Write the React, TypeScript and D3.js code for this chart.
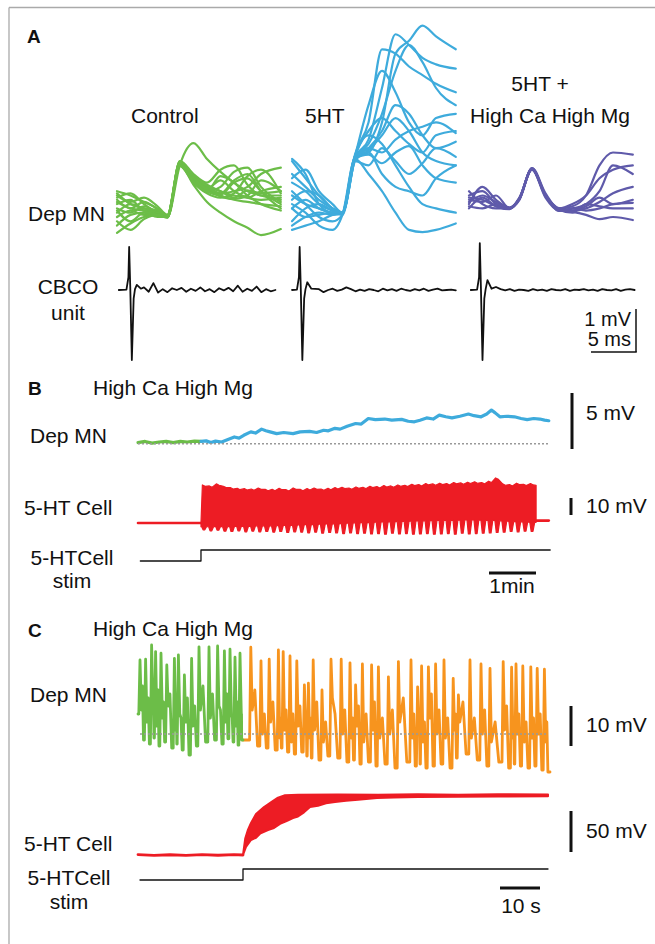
import * as d3 from "d3";
import React, { useEffect, useRef } from "react";

const W = 655;
const H = 944;
const sans = '"Liberation Sans", Arial, Helvetica, sans-serif';

const green = "#6cbd48";
const blue = "#3eabdc";
const purple = "#5f5aaa";
const red = "#ed1c24";
const orange = "#f7941e";
const ink = "#111";

// ---------- A: Dep MN overlays (ms, mV) ----------
const aTimes = [0, 1.5, 3, 4.5, 5.6, 7.0, 8.5, 10, 11.5, 13, 14.5, 16, 18.2];
const aOffsets = [117, 292, 469];

const controlTraces = [
  [0.35, 0.2, 0.15, 0.08, 0.0, 1.22, 1.72, 1.35, 1.05, 0.8, 0.6, 0.5, 0.4],
  [-0.37, -0.15, 0.0, 0.05, 0.0, 1.2, 0.75, 0.35, 0.1, -0.1, -0.25, -0.42, -0.28],
  [0.1, 0.3, 0.2, 0.15, 0.03, 1.28, 0.95, 0.7, 0.55, 0.6, 0.7, 1.0, 1.15],
  [0.6, 0.5, 0.35, 0.2, 0.05, 1.3, 1.0, 0.8, 1.1, 1.2, 0.75, 0.5, 0.5],
  [0.45, 0.55, 0.3, 0.1, 0.0, 1.25, 0.9, 0.65, 0.5, 0.4, 0.35, 0.3, 0.25],
  [0.2, 0.1, 0.25, 0.1, 0.02, 1.22, 0.85, 0.6, 0.7, 1.05, 1.15, 0.7, 0.35],
  [0.0, 0.15, 0.05, 0.05, -0.02, 1.18, 0.8, 0.55, 0.45, 0.55, 0.95, 1.1, 0.55],
  [0.5, 0.35, 0.45, 0.25, 0.05, 1.3, 0.95, 0.75, 0.6, 0.5, 0.45, 0.6, 0.7],
  [-0.2, 0.05, 0.1, 0.0, 0.0, 1.2, 0.85, 0.6, 0.95, 0.8, 0.5, 0.3, 0.15],
  [0.3, 0.4, 0.15, 0.12, 0.03, 1.27, 0.9, 0.7, 0.55, 0.85, 1.0, 0.6, 0.2],
  [0.15, -0.1, 0.1, 0.05, 0.0, 1.24, 0.88, 0.62, 0.48, 0.42, 0.5, 0.85, 0.6],
  [0.55, 0.3, 0.2, 0.15, 0.02, 1.26, 0.92, 0.66, 0.85, 0.6, 0.45, 0.4, 0.45],
  [-0.1, -0.3, -0.05, 0.05, 0.0, 1.2, 0.82, 0.58, 0.52, 0.8, 0.9, 0.6, 0.3],
  [0.4, 0.2, 0.35, 0.18, 0.04, 1.29, 0.97, 0.72, 0.6, 0.45, 0.62, 0.55, 0.6],
];

const serotoninTraces = [
  [0.8, 0.6, 0.3, 0.15, 0.1, 1.4, 1.5, 2.2, 3.8, 4.1, 4.45, 4.2, 3.9],
  [0.2, 0.0, 0.05, 0.1, 0.1, 1.35, 1.8, 3.0, 4.25, 4.0, 3.7, 3.55, 3.45],
  [1.3, 0.9, 0.5, 0.2, 0.1, 1.45, 2.2, 3.9, 3.8, 3.5, 3.3, 3.1, 2.9],
  [0.5, 0.3, 0.2, 0.1, 0.1, 1.4, 1.7, 2.4, 3.4, 4.0, 3.6, 3.0, 2.6],
  [-0.2, 0.0, 0.1, 0.05, 0.1, 1.35, 1.6, 1.5, 1.8, 2.0, 2.1, 2.2, 1.95],
  [0.9, 1.1, 0.6, 0.3, 0.1, 1.4, 2.0, 2.3, 2.0, 1.7, 1.5, 1.9, 2.0],
  [0.2, 0.4, 0.2, 0.1, 0.05, 1.3, 1.55, 1.9, 2.3, 2.0, 1.5, 1.3, 1.2],
  [-0.3, -0.2, -0.1, 0.05, 0.1, 1.3, 1.2, 1.6, 1.3, 1.0, 1.25, 1.6, 1.4],
  [0.6, 0.3, 0.0, -0.1, 0.05, 1.4, 1.5, 1.0, 0.7, 0.6, 0.5, 0.9, 1.2],
  [0.3, 0.1, -0.2, -0.3, 0.05, 1.35, 1.0, 0.6, 0.1, -0.3, -0.35, -0.3, -0.15],
  [1.0, 0.7, 0.4, 0.2, 0.1, 1.42, 1.9, 1.7, 1.2, 0.7, 0.3, 0.2, 0.1],
  [-0.1, 0.2, 0.3, 0.15, 0.1, 1.38, 1.6, 2.0, 2.6, 2.4, 1.9, 1.6, 1.75],
  [0.4, 0.6, 0.5, 0.2, 0.1, 1.36, 1.45, 1.25, 1.5, 1.65, 1.2, 0.9, 0.8],
  [1.35, 1.0, 0.3, 0.1, 0.1, 1.4, 2.6, 3.4, 2.9, 2.2, 1.9, 2.3, 2.4],
];

const highCaMgTraces = [
  [0.5, 0.6, 0.3, 0.2, 0.45, 1.12, 0.5, 0.2, 0.25, 0.5, 1.2, 1.5, 1.45],
  [0.3, 0.7, 0.4, 0.22, 0.42, 1.1, 0.45, 0.15, 0.2, 0.3, 0.6, 1.2, 1.0],
  [0.4, 0.35, 0.5, 0.2, 0.4, 1.14, 0.55, 0.18, 0.15, 0.2, 0.35, 0.55, 0.7],
  [0.2, 0.45, 0.25, 0.18, 0.44, 1.1, 0.5, 0.2, 0.15, 0.25, 0.45, 0.3, 0.4],
  [0.6, 0.3, 0.2, 0.2, 0.43, 1.13, 0.52, 0.14, 0.2, 0.15, 0.2, 0.3, 0.33],
  [0.35, 0.5, 0.35, 0.22, 0.41, 1.11, 0.48, 0.17, 0.1, 0.3, 0.25, 0.2, 0.2],
  [0.25, 0.2, 0.3, 0.2, 0.42, 1.12, 0.5, 0.16, 0.12, 0.05, -0.05, 0.0, -0.07],
  [0.45, 0.4, 0.25, 0.19, 0.43, 1.12, 0.5, 0.2, 0.3, 0.5, 0.9, 1.1, 1.2],
];

// CBCO unit: spike time (ms), peak / trough / afterbump (mV), noise from 3 ms on
const cbcoStart = [0.2, 0, 0.2];
const cbcoEnd = [17.6, 18.2, 18.4];
const cbcoSpikeT = [1.35, 0.85, 1.2];
const cbcoUp = [1.0, 1.0, 1.09];
const cbcoDown = [-1.63, -1.63, -1.63];
const cbcoAfter = [0.12, 0.18, 0.23];
const cbcoNoise1 = [0.06, -0.04, 0.16, -0.06, 0.02, -0.05, 0.04, 0.0, 0.05, -0.04, 0.03, -0.02, 0.06, -0.03, 0.02, -0.05, 0.04, -0.01, 0.05, -0.03, 0.1, -0.04, 0.03, -0.02, 0.08, -0.05, 0.02, -0.03, 0.0];
const cbcoNoise2 = [0.02, -0.05, 0.0, 0.03, -0.02, 0.01, 0.06, 0.02, -0.03, 0.01, -0.02, 0.02, 0.0, -0.03, 0.03, -0.01, 0.02, -0.02, 0.03, 0.0, -0.02, 0.02, -0.01, 0.03, -0.02, 0.01, 0.03, -0.01, 0.0, 0.01, -0.01];
const cbcoNoise3 = [0.07, 0.02, -0.01, 0.02, -0.02, 0.01, 0.0, -0.02, 0.02, -0.01, 0.01, -0.02, 0.02, 0.0, -0.01, 0.02, -0.02, 0.01, 0.0, 0.02, -0.01, 0.01, -0.02, 0.02, 0.0, -0.01, 0.02, -0.02, 0.01, 0.02, 0.0];

// ---------- B (min, mV) ----------
const bGreen = [[0, -0.05], [0.15, 0.05], [0.3, -0.1], [0.45, 0.0], [0.6, 0.06], [0.75, -0.05], [0.9, 0.05], [1.05, 0.0], [1.2, 0.08], [1.34, 0.05]];
const bBlue = [
  [1.34, 0.05], [1.45, 0.1], [1.55, -0.05], [1.65, 0.08], [1.78, 0.0], [1.9, 0.2], [2.05, 0.45], [2.15, 0.35], [2.25, 0.6],
  [2.4, 0.9], [2.5, 0.8], [2.63, 1.15], [2.72, 1.0], [2.81, 0.9], [2.95, 0.75], [3.1, 0.85], [3.3, 0.75], [3.45, 0.9],
  [3.65, 0.95], [3.8, 0.85], [3.95, 1.05], [4.05, 1.0], [4.19, 1.22], [4.3, 1.15], [4.45, 1.4], [4.63, 1.65], [4.75, 1.6],
  [4.9, 2.1], [5.05, 2.0], [5.25, 2.05], [5.4, 1.95], [5.61, 2.02], [5.75, 1.85], [5.88, 1.8], [6.0, 1.95], [6.14, 2.15],
  [6.28, 2.05], [6.41, 2.4], [6.55, 2.25], [6.68, 2.15], [6.85, 2.3], [7.03, 2.5], [7.15, 2.35], [7.3, 2.25], [7.42, 2.5],
  [7.52, 2.85], [7.6, 2.6], [7.7, 2.25], [7.85, 2.3], [8.01, 2.25], [8.15, 2.1], [8.28, 2.0], [8.42, 2.1], [8.55, 2.05],
  [8.65, 1.95], [8.74, 1.9],
];
// 5-HT cell firing: one entry per cycle (mV from rest)
const bCellTop = [22.4, 21.8, 23.0, 21.6, 20.8, 20.4, 20.2, 20.0, 20.6, 19.8, 19.8, 20.4, 19.6, 20.6, 19.8, 20.2, 20.6, 20.0, 20.4, 20.8, 21.0, 20.6, 21.2, 21.0, 21.6, 21.4, 22.0, 21.8, 22.4, 22.2, 22.8, 22.6, 23.2, 23.0, 23.4, 23.2, 23.8, 23.6, 24.0, 24.2, 23.8, 24.6, 26.5, 23.0, 22.6, 23.4, 22.8, 23.2];
const bCellTooth = [-4.0, -4.6, -4.2, -4.8, -5.0, -4.6, -5.2, -4.8, -5.2, -5.0, -5.4, -5.0, -5.6, -5.2, -5.4, -5.8, -5.4, -6.0, -5.6, -5.8, -6.2, -5.8, -6.2, -6.0, -6.4, -6.2, -6.6, -6.0, -6.4, -6.2, -6.6, -6.4, -6.2, -6.6, -6.4, -6.2, -6.6, -6.0, -6.4, -6.2, -6.0, -5.8, -5.6, -5.4, -5.0, -5.2, -4.8, -5.0];
const bCellFloor = [-2.2, -2.2, -2.0, -2.2, -2.0, -1.8, -2.0, -1.8, -1.6, -1.8, -1.6, -1.4, -1.4, -1.2, -1.0, -1.0, -0.8, -0.6, -0.6, -0.4, -0.2, 0.0, 0.2, 0.2, 0.4, 0.6, 0.6, 0.8, 1.0, 1.0, 1.2, 1.2, 1.4, 1.4, 1.6, 1.6, 1.6, 1.8, 1.8, 1.8, 1.6, 1.6, 1.4, 1.2, 1.0, 0.8, 0.6, 0.4];
const bStimOn = 1.34;
const bStimOff = 8.47;
const bEnd = 8.74;

// ---------- C (s, mV) ----------
const cGreenPeakT = [0.5, 1.9, 3.4, 4.4, 5.75, 7.2, 9.1, 10.1, 11.6, 13.4, 15.25, 17.75, 19.9, 21.6, 23, 24.25, 25.5];
const cGreenPeakV = [18.5, 18.7, 22.25, 20.6, 20.2, 17.25, 18.9, 19.75, 14.75, 18.9, 21.8, 21.8, 22, 20.8, 21.2, 19.2, 20.2];
const cGreenShoulder = [6, 3, 8, 2, 4, 7, 1, 5, 3, 2, 6, 4, 7, 3, 5, 2, 4];
const cGreenMid = [12, 9, 6, 11, 8, 10, 9, 4, 9, 7, 12, 10, 6, 10, 4, 8, 5];
const cGreenTrough = [-1.5, -2.5, -1.0, -3.0, -2.0, -3.5, -2.5, -4.0, -5.25, -3.0, -2.0, -1.5, -2.5, -1.2, -2.0, -2.8, -1.5];
const cOrangePeakT = [28.2, 30.75, 32.8, 35.1, 36.3, 38, 39.7, 41.6, 42.6, 43.8, 46, 48.25, 50.8, 53, 54.4, 56.1, 58.4, 60.1, 62.6, 65.1, 68.25, 69.9, 70.9, 72.6, 74.4, 76.5, 78.8, 80.1, 83, 85.75, 88, 91.3, 93.4, 94.5, 96.2, 98.2, 99.8, 101.6];
const cOrangePeakV = [21.7, 18.3, 18.7, 21, 20.6, 19.5, 18.3, 12.25, 12.7, 18.5, 11, 18.7, 18.7, 17.8, 12.25, 17.5, 17.25, 16.8, 14.3, 18.1, 18.5, 11.8, 17, 16.8, 17.5, 18.5, 13.9, 9.75, 18.5, 17.5, 16.4, 18.1, 16.7, 17.5, 17, 16.8, 16.4, 16.2];
const cOrangeShoulder = [6, 0, 3, -1, 1, -2, 2, 0, -1, 1, -2, 9, 0, -1, 2, -2, 1, -1, 0, 3, -1, 1, -2, 4, 0, -1, 1, 3, -1, 0, -2, 1, -1, 0, -2, -1, 0, -2];
const cOrangeMid = [11, 5, 8, 4, 6, 5, 7, 3, 4, 8, 3, 5, 6, 4, 7, 5, 8, 4, 6, 9, 5, 4, 3, 10, 6, 4, 5, 8, 4, 6, 3, 7, 4, 5, 3, 4, 5, 3];
const cOrangeTrough = [-3.0, -3.5, -4.0, -3.5, -4.5, -5.0, -4.5, -5.5, -6.0, -6.5, -5.5, -6.0, -7.0, -6.5, -7.5, -7.0, -8.0, -7.5, -8.5, -7.0, -8.0, -7.5, -8.5, -8.0, -7.5, -8.5, -6.0, -5.0, -6.5, -8.0, -7.0, -8.5, -7.5, -8.0, -8.5, -8.0, -9.0, -9.5];
const cStimOn = 26.25;
const cEnd = 103;
const cCellRest = [[0, 0.4], [4, -0.5], [8, 0.3], [12, -0.4], [16, 0.5], [20, -0.3], [24, 0.4], [26.25, 0]];
const cCellTopT = [26.25, 26.8, 27.5, 28.25, 29.5, 31.5, 33.5, 35, 36.75, 40, 50, 60, 70, 80, 90, 102.5];
const cCellTopV = [0, 20, 31, 39, 50, 58.5, 65, 70, 73, 73.5, 73.8, 73.5, 74, 73.6, 74, 73.8];
const cCellBotT = [26.25, 27, 28.25, 29.5, 30.5, 32.5, 34, 35.5, 37, 38.75, 40, 41.5, 43, 45, 47, 49.25, 52, 55, 59.75, 64, 70, 80, 90, 102.5];
const cCellBotV = [0, 10, 18.3, 21, 26, 30.5, 33, 38, 41, 45, 47, 52, 58.5, 60, 63, 64.6, 66, 67.5, 69.5, 70, 70.7, 71, 71.2, 71.5];

type Pt = [number, number];

// one cycle: rise, peak, fall to shoulder, secondary bump, trough
function oscillation(peakT: number[], peakV: number[], shoulder: number[], mid: number[], trough: number[], t0: number, v0: number, t1: number): Pt[] {
  const pts: Pt[] = [[t0, v0]];
  let prev = v0;
  peakT.forEach((t, i) => {
    const next = i < peakT.length - 1 ? peakT[i + 1] : t1;
    const g = next - t - 0.65;
    pts.push([t - 0.3, prev], [t, peakV[i]], [t + 0.35, shoulder[i]], [t + 0.35 + 0.35 * g, mid[i]], [t + 0.35 + 0.7 * g, trough[i]]);
    prev = trough[i];
  });
  pts.push([t1, prev]);
  return pts;
}

export default function App() {
  const ref = useRef<SVGSVGElement | null>(null);

  useEffect(() => {
    document.body.style.margin = "0";
    document.body.style.overflow = "hidden";
    const svg = d3.select(ref.current);
    svg.selectAll("*").remove();

    const line = (pts: Pt[], xs: any, ys: any, color: string, width: number, curve: any = d3.curveLinear) =>
      svg
        .append("path")
        .attr("d", d3.line<Pt>().x((d) => xs(d[0])).y((d) => ys(d[1])).curve(curve)(pts))
        .attr("fill", "none")
        .attr("stroke", color)
        .attr("stroke-width", width)
        .attr("stroke-linejoin", "round")
        .attr("stroke-linecap", "round");

    const text = (x: number, y: number, s: string, anchor = "start", bold = false, size = 21) =>
      svg
        .append("text")
        .attr("x", x)
        .attr("y", y)
        .attr("font-family", sans)
        .attr("font-size", bold ? 19 : size)
        .attr("font-weight", bold ? "bold" : "normal")
        .attr("text-anchor", anchor)
        .attr("fill", ink)
        .text(s);

    const bar = (x1: number, y1: number, x2: number, y2: number, w = 3) =>
      svg.append("line").attr("x1", x1).attr("y1", y1).attr("x2", x2).attr("y2", y2).attr("stroke", ink).attr("stroke-width", w);

    // frame
    svg.append("rect").attr("width", W).attr("height", H).attr("fill", "#fff");
    svg.append("line").attr("x1", 9).attr("y1", 7.5).attr("x2", W).attr("y2", 7.5).attr("stroke", "#aaa").attr("stroke-width", 1.3);
    svg.append("line").attr("x1", 9).attr("y1", 7.5).attr("x2", 9).attr("y2", H).attr("stroke", "#aaa").attr("stroke-width", 1.3);

    // ===== A =====
    text(27, 43, "A", "start", true);
    text(131, 123, "Control");
    text(305, 123, "5HT");
    text(540, 91, "5HT +", "middle");
    text(550, 123, "High Ca High Mg", "middle");
    text(28, 221, "Dep MN");
    text(68, 294, "CBCO", "middle");
    text(68, 320, "unit", "middle");

    const aX = (k: number) => d3.scaleLinear().domain([0, 1]).range([aOffsets[k], aOffsets[k] + 9]);
    const aY = d3.scaleLinear().domain([0, 1]).range([217, 174]);
    const cbY = d3.scaleLinear().domain([0, 1]).range([290, 247]);

    [controlTraces, serotoninTraces, highCaMgTraces].forEach((set, k) => {
      const col = [green, blue, purple][k];
      set.forEach((vals) => line(aTimes.map((t, i) => [t, vals[i]] as Pt), aX(k), aY, col, 2.2, d3.curveMonotoneX));
    });

    [cbcoNoise1, cbcoNoise2, cbcoNoise3].forEach((noise, k) => {
      const s = cbcoSpikeT[k];
      const nt = d3.scaleLinear().domain([0, noise.length - 1]).range([3, cbcoEnd[k]]);
      const pts: Pt[] = [
        [cbcoStart[k], 0], [s - 0.3, 0.01], [s - 0.08, 0.3], [s, cbcoUp[k]], [s + 0.12, 0.1],
        [s + 0.3, cbcoDown[k]], [s + 0.5, -0.2], [s + 0.65, 0.02], [s + 0.85, cbcoAfter[k]], [s + 1.3, 0.03],
        ...noise.map((v, i) => [nt(i), v] as Pt),
      ];
      line(pts, aX(k), cbY, ink, 1.8);
    });

    // scale bar A: 1 mV / 5 ms
    const aBarX = 636;
    const aBarY = 352;
    bar(aBarX, aBarY, aBarX, aBarY - (cbY(0) - cbY(1)), 1.5);
    bar(aBarX - (aX(2)(5) - aX(2)(0)), aBarY, aBarX + 0.75, aBarY, 1.5);
    text(631, 326, "1 mV", "end", false, 20);
    text(631, 346, "5 ms", "end", false, 20);

    // ===== B =====
    text(28, 395, "B", "start", true);
    text(93, 395, "High Ca High Mg");
    text(30, 443, "Dep MN");
    text(586, 420, "5 mV");
    text(24, 515, "5-HT Cell");
    text(586, 513, "10 mV");
    text(72, 565, "5-HTCell", "middle");
    text(72, 588, "stim", "middle");
    text(512, 593, "1min", "middle");

    const bX = d3.scaleLinear().domain([0, 1]).range([138, 185]);
    const bDepY = d3.scaleLinear().domain([0, 1]).range([442, 430.8]);
    const bCellY = d3.scaleLinear().domain([0, 1]).range([523, 521.3]);
    const bStimY = d3.scaleLinear().domain([0, 1]).range([561, 550]);

    line(bGreen as Pt[], bX, bDepY, green, 3.2);
    line(bBlue as Pt[], bX, bDepY, blue, 3.2);
    svg.append("line").attr("x1", bX(0)).attr("x2", bX(bEnd)).attr("y1", bDepY(-0.15)).attr("y2", bDepY(-0.15))
      .attr("stroke", "#999").attr("stroke-width", 1.6).attr("stroke-dasharray", "2 2");

    // 5-HT cell block
    const n = bCellTop.length;
    const cyc = d3.scaleLinear().domain([0, n]).range([bStimOn, bStimOff]);
    const upper: Pt[] = [[bStimOn, 0]];
    const lower: Pt[] = [];
    for (let i = 0; i < n; i++) {
      const t0 = cyc(i);
      const p = cyc(i + 1) - t0;
      upper.push([t0 + 0.2 * p, bCellTop[i]], [t0 + 0.6 * p, bCellTop[i] - 0.8]);
      lower.push([t0 + 0.1 * p, bCellFloor[i]], [t0 + 0.3 * p, bCellTooth[i]], [t0 + 0.55 * p, bCellTooth[i]], [t0 + 0.8 * p, bCellFloor[i]]);
    }
    upper.push([bStimOff, bCellTop[n - 1] - 1]);
    const block = [...upper, [bStimOff, bCellFloor[n - 1]] as Pt, ...lower.reverse(), [bStimOn, bCellFloor[0]] as Pt];
    svg.append("path")
      .attr("d", d3.line<Pt>().x((d) => bX(d[0])).y((d) => bCellY(d[1]))(block) + "Z")
      .attr("fill", red).attr("stroke", red).attr("stroke-width", 1.2).attr("stroke-linejoin", "round");
    line([[0, 0], [bStimOn, 0]], bX, bCellY, red, 2.6);
    line([[bStimOff, 1.4], [bEnd, 1.4]], bX, bCellY, red, 2.6);

    line([[0.05, 0], [bStimOn, 0], [bStimOn, 1], [bEnd + 0.03, 1]], bX, bStimY, ink, 1.3);

    bar(572, 449, 572, 449 - (bDepY(0) - bDepY(5)));
    bar(571, 515, 571, 515 - (bCellY(0) - bCellY(10)));
    bar(489, 573, 489 + (bX(1) - bX(0)), 573);

    // ===== C =====
    text(28, 637, "C", "start", true);
    text(93, 636, "High Ca High Mg");
    text(30, 702, "Dep MN");
    text(586, 732, "10 mV");
    text(24, 851, "5-HT Cell");
    text(586, 838, "50 mV");
    text(69, 885, "5-HTCell", "middle");
    text(69, 909, "stim", "middle");
    text(521, 913, "10 s", "middle");

    const cX = d3.scaleLinear().domain([0, 10]).range([138, 178]);
    const cDepY = d3.scaleLinear().domain([0, 10]).range([734, 694]);
    const cCellY = d3.scaleLinear().domain([0, 50]).range([855, 814]);
    const cStimY = d3.scaleLinear().domain([0, 1]).range([880, 869]);

    const gPts = oscillation(cGreenPeakT, cGreenPeakV, cGreenShoulder, cGreenMid, cGreenTrough, 0, 5, cStimOn);
    const oPts = oscillation(cOrangePeakT, cOrangePeakV, cOrangeShoulder, cOrangeMid, cOrangeTrough, cStimOn, cGreenTrough[cGreenTrough.length - 1], cEnd);
    line(oPts, cX, cDepY, orange, 2.8);
    line(gPts, cX, cDepY, green, 2.8);
    svg.append("line").attr("x1", cX(0.5)).attr("x2", cX(102.5)).attr("y1", cDepY(0)).attr("y2", cDepY(0))
      .attr("stroke", "#999").attr("stroke-width", 1.6).attr("stroke-dasharray", "2 2");

    line(cCellRest as Pt[], cX, cCellY, red, 2.8);
    const env: Pt[] = [
      ...cCellTopT.map((t, i) => [t, cCellTopV[i]] as Pt),
      ...cCellBotT.map((t, i) => [t, cCellBotV[i]] as Pt).reverse(),
    ];
    svg.append("path")
      .attr("d", d3.line<Pt>().x((d) => cX(d[0])).y((d) => cCellY(d[1]))(env) + "Z")
      .attr("fill", red).attr("stroke", red).attr("stroke-width", 2).attr("stroke-linejoin", "round");

    line([[0.5, 0], [cStimOn, 0], [cStimOn, 1], [102.5, 1]], cX, cStimY, ink, 1.3);

    bar(571, 746, 571, 746 - (cDepY(0) - cDepY(10)));
    bar(571, 852, 571, 852 - (cCellY(0) - cCellY(50)));
    bar(500, 888, 500 + (cX(10) - cX(0)), 888);
  }, []);

  return <svg ref={ref} width={W} height={H} style={{ position: "absolute", left: 0, top: 0, display: "block" }} />;
}
